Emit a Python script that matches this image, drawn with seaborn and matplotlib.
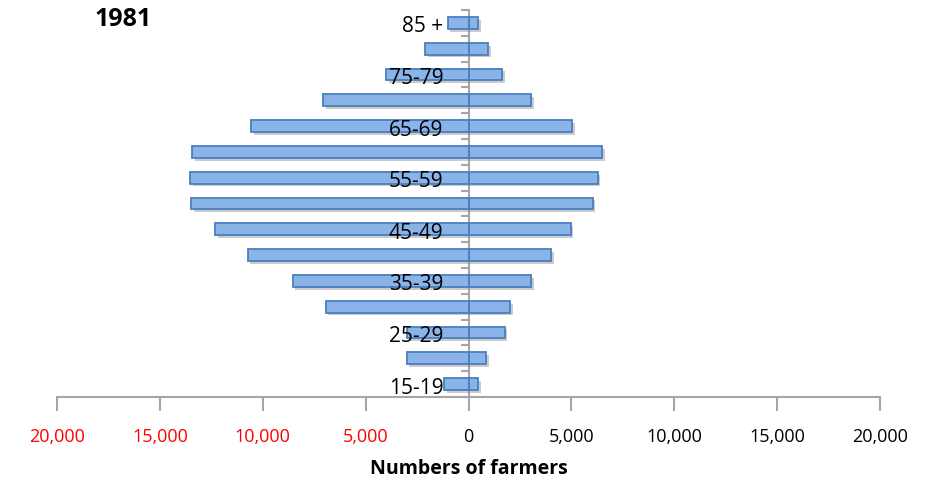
import matplotlib
matplotlib.use("Agg")
import matplotlib.pyplot as plt
import matplotlib.patheffects as pe
import matplotlib.transforms as mtransforms
import numpy as np
import pandas as pd
import seaborn as sns

sns.set_style("white")
plt.rcParams["font.family"] = ["Open Sans", "DejaVu Sans"]
plt.rcParams["text.color"] = "black"
plt.rcParams["axes.labelcolor"] = "black"

# age groups, top to bottom
age_groups = ["85 +", "80-84", "75-79", "70-74", "65-69", "60-64", "55-59", "50-54",
              "45-49", "40-44", "35-39", "30-34", "25-29", "20-24", "15-19"]
# left side (drawn negative) and right side of the pyramid
left_values = [1020, 2120, 4000, 7050, 10550, 13430, 13540, 13490,
               12330, 10740, 8550, 6950, 3010, 3010, 1200]
right_values = [450, 940, 1640, 3050, 5050, 6510, 6270, 6030,
                4960, 4030, 3050, 2040, 1750, 840, 450]
shown_labels = ["85 +", "75-79", "65-69", "55-59", "45-49", "35-39", "25-29", "15-19"]
x_ticks = [-20000, -15000, -10000, -5000, 0, 5000, 10000, 15000, 20000]

df = pd.DataFrame({
    "age": age_groups * 2,
    "farmers": [-v for v in left_values] + right_values,
    "side": ["left"] * len(age_groups) + ["right"] * len(age_groups),
})

fig = plt.figure(figsize=(9.35, 4.86), dpi=100)
ax = fig.add_axes([57 / 935, 1 - 397 / 486, 823 / 935, 387 / 486])

fill = "#8ab4e8"
edge = "#4a7ec0"
for side in ["left", "right"]:
    sns.barplot(data=df[df.side == side], x="farmers", y="age", order=age_groups,
                orient="h", color=fill, edgecolor=edge, linewidth=1.3,
                width=0.46, saturation=1, ax=ax)

for p in ax.patches:
    p.set_path_effects([pe.SimplePatchShadow(offset=(2, -2), shadow_rgbFace="#8c8c8c", alpha=0.45),
                        pe.Normal()])
    p.set_zorder(2)

ax.set_xlim(-20000, 20000)
ax.set_ylim(len(age_groups) - 0.5, -0.5)

grey = "#a6a6a6"
for s in ["top", "right"]:
    ax.spines[s].set_visible(False)
ax.spines["left"].set_position(("data", 0))
ax.spines["left"].set_color(grey)
ax.spines["left"].set_linewidth(1.5)
ax.spines["bottom"].set_color(grey)
ax.spines["bottom"].set_linewidth(1.5)
ax.spines["left"].set_zorder(1)

# y: small ticks between categories, category names placed separately
ax.set_yticks(np.arange(-0.5, len(age_groups), 1.0))
ax.set_yticklabels([])
ax.tick_params(axis="y", left=True, length=6, width=1.5, color=grey, direction="out")
ax.set_ylabel("")

label_tr = mtransforms.offset_copy(ax.transData, fig=fig, x=-25, y=-4, units="dots")
for i, a in enumerate(age_groups):
    if a in shown_labels:
        ax.text(0, i, a, transform=label_tr, ha="right", va="center",
                fontsize=15, color="black", zorder=5)

ax.set_xticks(x_ticks)
ax.set_xticklabels([f"{abs(t):,}" for t in x_ticks])
for t, lab in zip(x_ticks, ax.get_xticklabels()):
    lab.set_color("red" if t < 0 else "black")
ax.tick_params(axis="x", bottom=True, length=10, width=1.5, color=grey, direction="out",
               pad=12, labelsize=13)

ax.set_xlabel("Numbers of farmers", fontsize=14, fontweight="bold", labelpad=10)

fig.text(95 / 935, 1 - 20 / 486, "1981", fontsize=18, fontweight="bold",
         ha="left", va="center")

fig.savefig("out.png", dpi=100)
